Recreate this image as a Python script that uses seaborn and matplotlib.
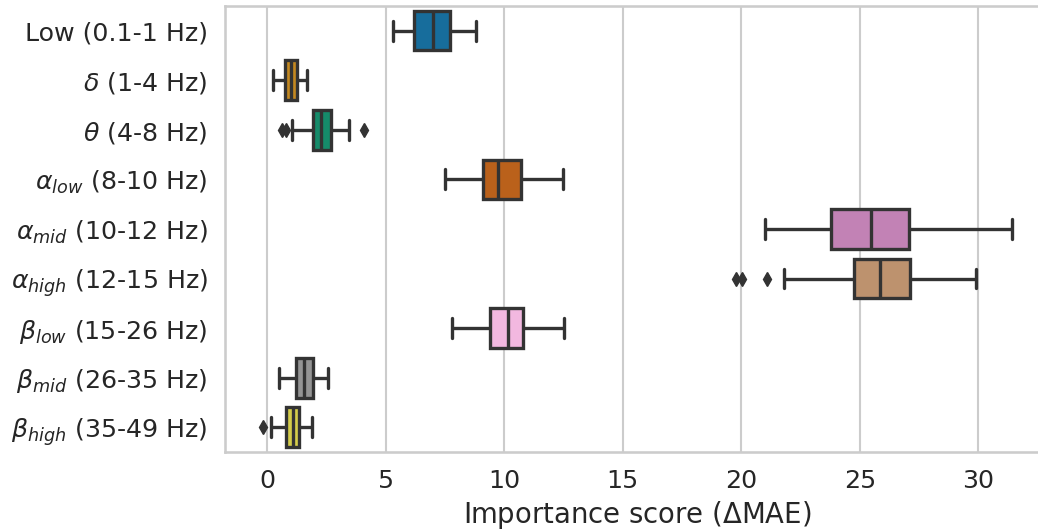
import pandas as pd
import matplotlib
matplotlib.use('Agg')
import matplotlib.pyplot as plt
import seaborn as sns

sns.set_theme(context='talk', style='whitegrid', font_scale=1.1)

BANDS = [
    'Low (0.1-1 Hz)',
    r'$\delta$ (1-4 Hz)',
    r'$\theta$ (4-8 Hz)',
    r'$\alpha_{low}$ (8-10 Hz)',
    r'$\alpha_{mid}$ (10-12 Hz)',
    r'$\alpha_{high}$ (12-15 Hz)',
    r'$\beta_{low}$ (15-26 Hz)',
    r'$\beta_{mid}$ (26-35 Hz)',
    r'$\beta_{high}$ (35-49 Hz)',
]

# importance scores (delta MAE) per frequency band
low = [5.3, 5.9, 6.2, 6.5, 7.0, 7.3, 7.7, 8.2, 8.8]
delta = [0.24, 0.6, 0.76, 0.9, 1.0, 1.1, 1.25, 1.5, 1.69]
theta = [0.62, 0.80, 1.05, 1.95, 2.1, 2.2, 2.28, 2.4, 2.5, 2.68, 3.0, 3.47, 4.08]
alpha_low = [7.48, 8.5, 9.09, 9.4, 9.72, 10.2, 10.7, 11.5, 12.49]
alpha_mid = [21.0, 22.5, 23.78, 24.6, 25.49, 26.3, 27.07, 29.0, 31.41]
alpha_high = [19.79, 20.04, 21.08, 21.8, 24.77, 25.0, 25.3, 25.6, 25.86,
              26.2, 26.5, 26.8, 27.10, 27.6, 28.3, 29.0, 29.89]
beta_low = [7.79, 8.6, 9.41, 9.8, 10.14, 10.5, 10.79, 11.6, 12.53]
beta_mid = [0.51, 0.9, 1.22, 1.4, 1.55, 1.7, 1.91, 2.2, 2.57]
beta_high = [-0.2, 0.17, 0.80, 0.95, 1.08, 1.2, 1.36, 1.6, 1.90]

scores = [low, delta, theta, alpha_low, alpha_mid, alpha_high, beta_low, beta_mid, beta_high]

df = pd.concat([pd.DataFrame({'band': b, 'score': s}) for b, s in zip(BANDS, scores)])

fig = plt.figure(figsize=(10.38, 5.3), dpi=100)
# the original figure is cropped on the right, so the axes run past the edge
ax = fig.add_axes([0.2168, 0.147, 0.794, 0.842])
sns.boxplot(data=df, x='score', y='band', hue='band', order=BANDS, palette='colorblind',
            legend=False, linecolor='#333333', linewidth=2.4, ax=ax,
            flierprops=dict(marker='d', markerfacecolor='#333333', markeredgecolor='#333333',
                            markersize=7))
ax.set_ylabel('')
ax.set_xlabel(r'Importance score ($\Delta$MAE)')
ax.set_xticks([0, 5, 10, 15, 20, 25, 30])
plt.savefig('out.png', dpi=100)
